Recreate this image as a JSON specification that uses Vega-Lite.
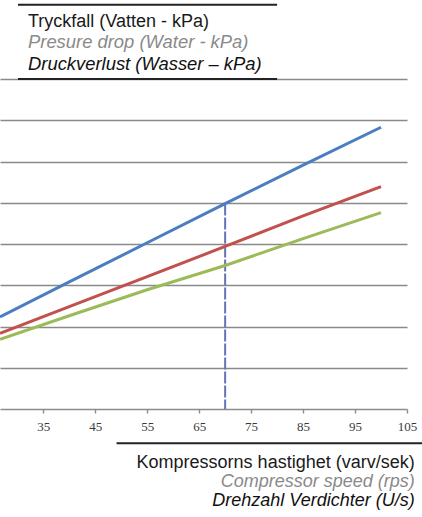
{
  "$schema": "https://vega.github.io/schema/vega-lite/v6.json",
  "autosize": {"type": "none"},
  "width": 407,
  "height": 330,
  "padding": {"left": 0, "top": 79, "right": 15, "bottom": 108},
  "background": "white",
  "config": {"view": {"stroke": null}},
  "datasets": {
    "curves": [
      {"speed": 26.67, "drop": 22.3, "series": "A"},
      {"speed": 40, "drop": 30.8, "series": "A"},
      {"speed": 55, "drop": 40.3, "series": "A"},
      {"speed": 70, "drop": 49.8, "series": "A"},
      {"speed": 85, "drop": 59.1, "series": "A"},
      {"speed": 100, "drop": 68.3, "series": "A"},
      {"speed": 26.67, "drop": 18.35, "series": "B"},
      {"speed": 40, "drop": 24.8, "series": "B"},
      {"speed": 55, "drop": 32.1, "series": "B"},
      {"speed": 70, "drop": 39.4, "series": "B"},
      {"speed": 85, "drop": 46.8, "series": "B"},
      {"speed": 100, "drop": 53.9, "series": "B"},
      {"speed": 26.67, "drop": 16.9, "series": "C"},
      {"speed": 40, "drop": 22.6, "series": "C"},
      {"speed": 55, "drop": 28.9, "series": "C"},
      {"speed": 70, "drop": 34.8, "series": "C"},
      {"speed": 85, "drop": 41.3, "series": "C"},
      {"speed": 100, "drop": 47.6, "series": "C"}
    ],
    "marker": [{"speed": 70, "drop": 49.8}]
  },
  "data": {"name": "marker"},
  "layer": [
    {
      "data": {"name": "curves"},
      "mark": {"type": "line", "opacity": 0},
      "encoding": {
        "x": {
          "field": "speed", "type": "quantitative",
          "scale": {"domain": [26.67, 105], "nice": false, "zero": false},
          "axis": {
            "values": [25, 35, 45, 55, 65, 75, 85, 95, 105],
            "title": null, "grid": false,
            "domainColor": "#8c8c8c", "domainWidth": 1.6,
            "tickColor": "#8c8c8c", "tickWidth": 1.4, "tickSize": 4,
            "labelFont": "Liberation Serif", "labelFontSize": 13,
            "labelColor": "#3a3a3a", "labelPadding": 7, "labelFlush": false, "labelOverlap": false
          }
        },
        "y": {
          "field": "drop", "type": "quantitative",
          "scale": {"domain": [0, 80], "nice": false, "zero": true},
          "axis": {
            "values": [10, 20, 30, 40, 50, 60, 70, 80],
            "title": null, "labels": false, "ticks": false, "domain": false,
            "grid": true, "gridColor": "#8a8a8a", "gridWidth": 1.6
          }
        }
      }
    },
    {
      "mark": {"type": "rule", "color": "#6573b8", "strokeWidth": 2, "strokeDash": [12, 2]},
      "encoding": {
        "x": {"field": "speed", "type": "quantitative"},
        "y": {"field": "drop", "type": "quantitative"},
        "y2": {"datum": 0}
      }
    },
    {
      "data": {"name": "curves"},
      "mark": {"type": "line", "strokeWidth": 3, "clip": true},
      "encoding": {
        "x": {"field": "speed", "type": "quantitative"},
        "y": {"field": "drop", "type": "quantitative"},
        "color": {
          "field": "series", "type": "nominal",
          "scale": {"domain": ["A", "B", "C"], "range": ["#4a7ec0", "#c2504d", "#9bbb59"]},
          "legend": null
        }
      }
    },
    {
      "mark": {"type": "text", "text": "Tryckfall (Vatten - kPa)", "font": "Liberation Sans", "fontSize": 18, "color": "#1a1a1a", "align": "left", "baseline": "alphabetic"},
      "encoding": {"x": {"datum": 32.06}, "y": {"datum": 92.6}}
    },
    {
      "mark": {"type": "text", "text": "Presure drop (Water - kPa)", "font": "Liberation Sans", "fontSize": 18.4, "fontStyle": "italic", "color": "#8a8a8a", "align": "left", "baseline": "alphabetic"},
      "encoding": {"x": {"datum": 32.06}, "y": {"datum": 87.4}}
    },
    {
      "mark": {"type": "text", "text": "Druckverlust (Wasser – kPa)", "font": "Liberation Sans", "fontSize": 18.4, "fontStyle": "italic", "color": "#111111", "align": "left", "baseline": "alphabetic"},
      "encoding": {"x": {"datum": 32.06}, "y": {"datum": 82.2}}
    },
    {
      "mark": {"type": "text", "text": "Kompressorns hastighet (varv/sek)", "font": "Liberation Sans", "fontSize": 18, "color": "#1a1a1a", "align": "right", "baseline": "alphabetic"},
      "encoding": {"x": {"datum": 106.48}, "y": {"datum": -14.2}}
    },
    {
      "mark": {"type": "text", "text": "Compressor speed (rps)", "font": "Liberation Sans", "fontSize": 18, "fontStyle": "italic", "color": "#8a8a8a", "align": "right", "baseline": "alphabetic"},
      "encoding": {"x": {"datum": 106.48}, "y": {"datum": -18.8}}
    },
    {
      "mark": {"type": "text", "text": "Drehzahl Verdichter (U/s)", "font": "Liberation Sans", "fontSize": 18, "fontStyle": "italic", "color": "#111111", "align": "right", "baseline": "alphabetic"},
      "encoding": {"x": {"datum": 106.48}, "y": {"datum": -23.4}}
    },
    {
      "mark": {"type": "rule", "color": "#222222", "strokeWidth": 1.8},
      "encoding": {"y": {"datum": 98.0}, "x": {"datum": 30.13}, "x2": {"datum": 80}}
    },
    {
      "mark": {"type": "rule", "color": "#222222", "strokeWidth": 1.8},
      "encoding": {"y": {"datum": 80}, "x": {"datum": 30.13}, "x2": {"datum": 80}}
    },
    {
      "mark": {"type": "rule", "color": "#222222", "strokeWidth": 1.8},
      "encoding": {"y": {"datum": -8.3}, "x": {"datum": 49.1}, "x2": {"datum": 108}}
    }
  ]
}
